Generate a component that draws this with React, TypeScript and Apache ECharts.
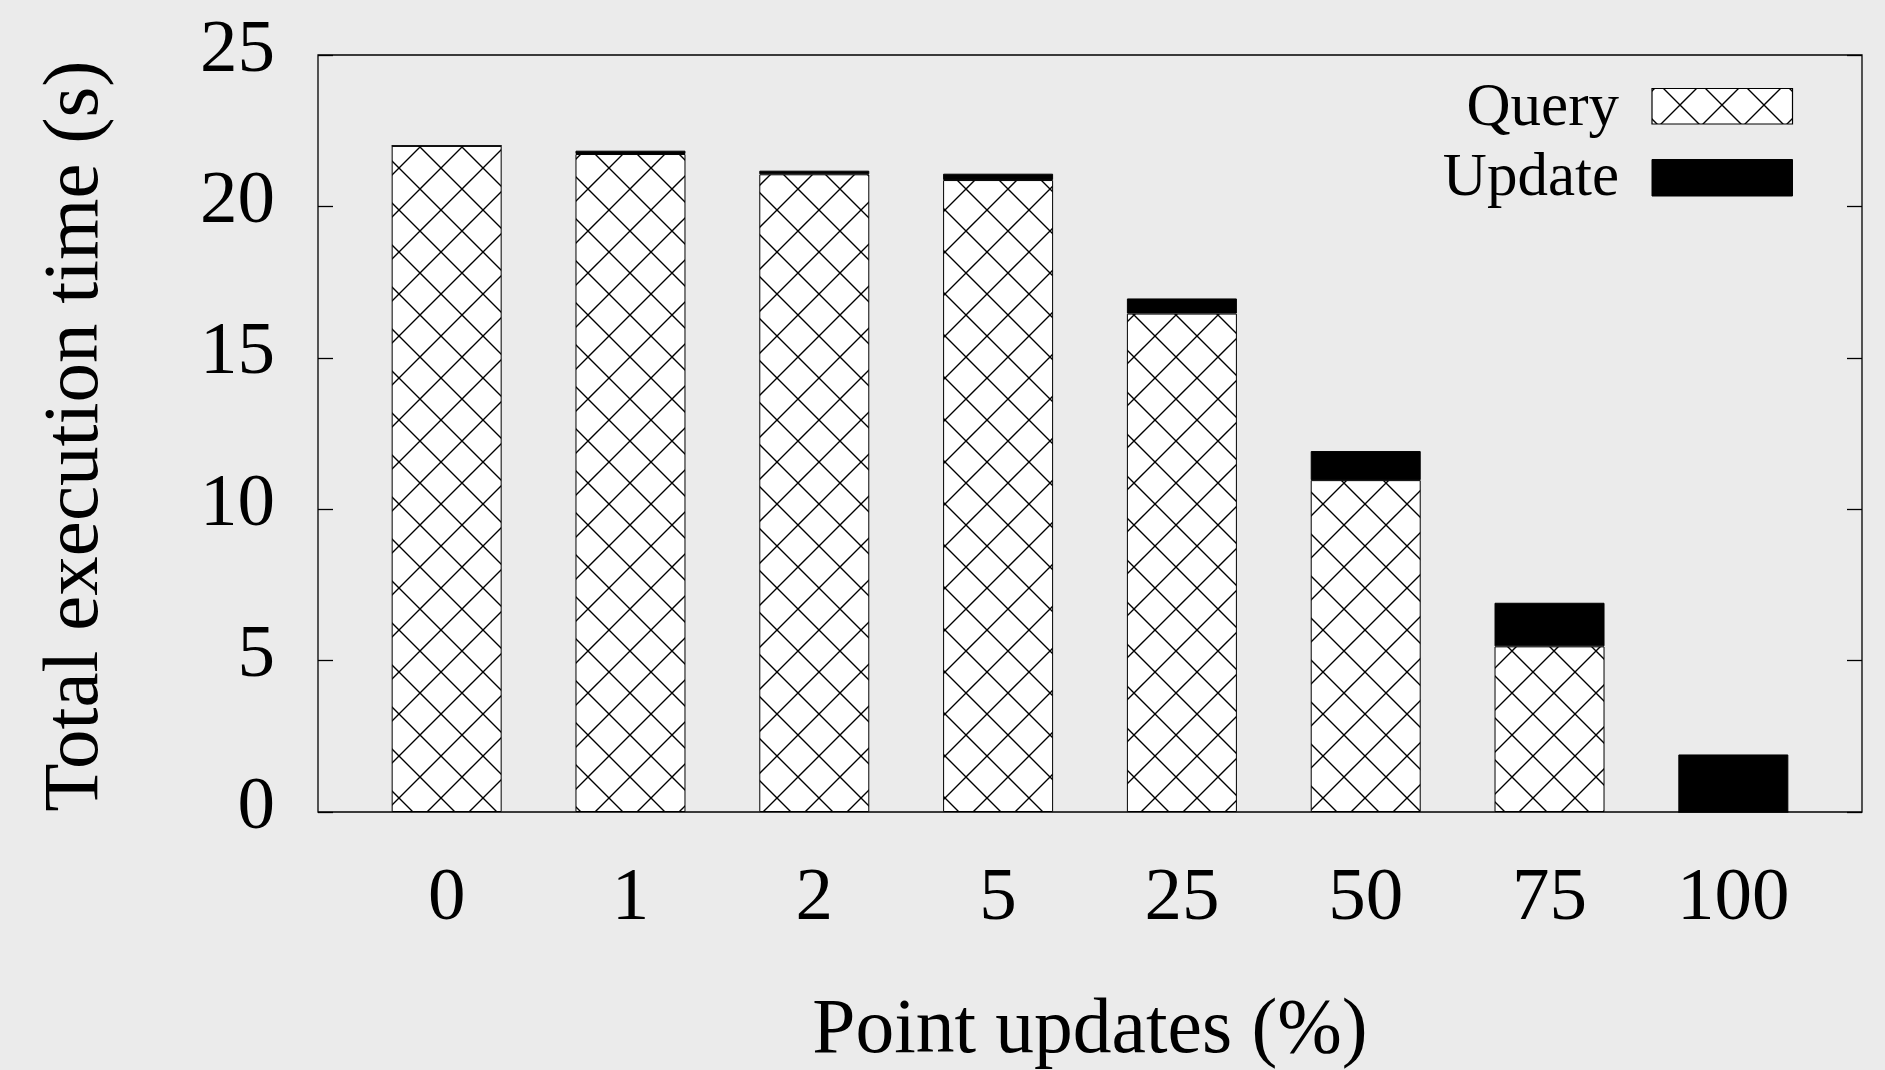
import React, { useEffect, useRef } from 'react';
import * as echarts from 'echarts';

const categories = ['0', '1', '2', '5', '25', '50', '75', '100'];
const queryTime = [22.0, 21.73, 21.06, 20.87, 16.46, 10.96, 5.47, 0];
const updateTime = [0, 0.11, 0.12, 0.21, 0.5, 0.96, 1.44, 1.9];
const seriesNames = ['Query', 'Update'];
const xTitle = 'Point updates (%)';
const yTitle = 'Total execution time (s)';
const yMin = 0;
const yMax = 25;
const yStep = 5;

const FONT = "'Liberation Serif', 'Times New Roman', serif";

function hatch() {
  const svg =
    '<svg xmlns="http://www.w3.org/2000/svg" width="42" height="42">' +
    '<rect width="42" height="42" fill="#ffffff"/>' +
    '<path d="M21 0L42 21L21 42L0 21Z" fill="none" stroke="#000000" stroke-width="1.4"/>' +
    '</svg>';
  return {
    image: 'data:image/svg+xml;charset=utf-8,' + encodeURIComponent(svg),
    repeat: 'repeat',
    imageWidth: 42,
    imageHeight: 42,
    x: 16,
    y: 25.7,
  } as any;
}

export default function App() {
  const ref = useRef<HTMLDivElement>(null);
  useEffect(() => {
    const chart = echarts.init(ref.current!, null, { renderer: 'svg' });
    const yAxisBase = {
      type: 'value',
      min: yMin,
      max: yMax,
      interval: yStep,
      axisLine: { show: false, onZero: false },
      splitLine: { show: false },
      axisTick: { show: true, inside: true, length: 15, lineStyle: { color: '#000', width: 1.3 } },
    };
    chart.setOption({
      animation: false,
      backgroundColor: '#ebebeb',
      grid: {
        left: 318,
        top: 55,
        right: 23,
        bottom: 258,
        show: true,
        borderColor: '#000',
        borderWidth: 1.3,
        backgroundColor: 'transparent',
      },
      xAxis: {
        type: 'value',
        min: -0.7,
        max: 7.7,
        interval: 0.1,
        axisLine: { show: false, onZero: false },
        axisTick: { show: false },
        splitLine: { show: false },
        axisLabel: {
          color: '#000',
          fontFamily: FONT,
          fontSize: 75,
          margin: 44,
          formatter: (v: number) => {
            const r = Math.round(v);
            if (Math.abs(v - r) < 1e-6 && r >= 0 && r < categories.length) return categories[r];
            return '';
          },
        },
      },
      yAxis: [
        {
          ...yAxisBase,
          position: 'left',
          axisLabel: {
            color: '#000',
            fontFamily: FONT,
            fontSize: 75,
            margin: 43,
            verticalAlign: 'bottom',
            lineHeight: 20,
          },
        },
        {
          ...yAxisBase,
          position: 'right',
          axisLabel: { show: false },
        },
      ],
      series: [
        {
          name: seriesNames[0],
          type: 'bar',
          stack: 'total',
          barWidth: 110,
          silent: true,
          encode: { x: 1, y: 0 },
          data: categories.map((_, i) => [queryTime[i], i]),
          itemStyle: { color: hatch(), borderColor: '#000', borderWidth: 1 },
        },
        {
          name: seriesNames[1],
          type: 'bar',
          stack: 'total',
          barWidth: 110,
          silent: true,
          encode: { x: 1, y: 0 },
          data: categories.map((_, i) => [updateTime[i], i]),
          itemStyle: { color: '#000', borderColor: '#000', borderWidth: 1 },
        },
      ],
      graphic: [
        {
          type: 'text',
          x: 1619,
          y: 104,
          style: { text: seriesNames[0], fill: '#000', font: `61px ${FONT}`, textAlign: 'right', textVerticalAlign: 'middle' },
        },
        {
          type: 'rect',
          shape: { x: 1652, y: 88.5, width: 140.5, height: 35.5 },
          style: { fill: hatch(), stroke: '#000', lineWidth: 1.2 },
        },
        {
          type: 'text',
          x: 1619,
          y: 174.5,
          style: { text: seriesNames[1], fill: '#000', font: `61px ${FONT}`, textAlign: 'right', textVerticalAlign: 'middle' },
        },
        {
          type: 'rect',
          shape: { x: 1652, y: 159.5, width: 140.5, height: 36.5 },
          style: { fill: '#000', stroke: '#000', lineWidth: 1 },
        },
        {
          type: 'text',
          x: 1090,
          y: 1026,
          style: { text: xTitle, fill: '#000', font: `77.5px ${FONT}`, textAlign: 'center', textVerticalAlign: 'middle' },
        },
        {
          type: 'text',
          x: 70,
          y: 436,
          rotation: Math.PI / 2,
          style: { text: yTitle, fill: '#000', font: `79px ${FONT}`, textAlign: 'center', textVerticalAlign: 'middle' },
        },
      ],
    });
    return () => chart.dispose();
  }, []);
  return (
    <div
      ref={ref}
      style={{ position: 'fixed', left: 0, top: 0, width: 1885, height: 1070, background: '#ebebeb' }}
    />
  );
}
